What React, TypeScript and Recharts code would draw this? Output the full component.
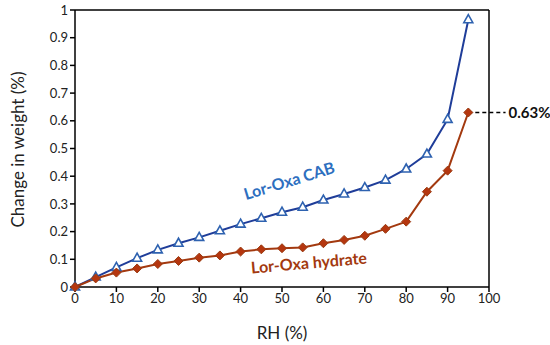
import { LineChart, Line, XAxis, YAxis, ReferenceLine, ReferenceDot } from "recharts"

const rh = [0, 5, 10, 15, 20, 25, 30, 35, 40, 45, 50, 55, 60, 65, 70, 75, 80, 85, 90, 95]
const cab = [0, 0.036, 0.071, 0.104, 0.134, 0.158, 0.179, 0.203, 0.227, 0.248, 0.27, 0.288, 0.314, 0.336, 0.359, 0.386, 0.426, 0.48, 0.605, 0.965]
const hydrate = [0, 0.031, 0.052, 0.067, 0.083, 0.094, 0.106, 0.114, 0.128, 0.136, 0.14, 0.143, 0.158, 0.17, 0.185, 0.21, 0.236, 0.344, 0.42, 0.63]
const xTicks = [0, 10, 20, 30, 40, 50, 60, 70, 80, 90, 100]
const yTicks = [0, 0.1, 0.2, 0.3, 0.4, 0.5, 0.6, 0.7, 0.8, 0.9, 1]

const data = rh.map((x, i) => ({ rh: x, cab: cab[i], hydrate: hydrate[i] }))

const font = "Lato, 'Open Sans', sans-serif"

const Triangle = ({ cx, cy }: { cx?: number, cy?: number }) => {
    if (cx == null || cy == null) return null
    return (
        <polygon
            points={`${cx},${cy - 5} ${cx + 4.5},${cy + 3} ${cx - 4.5},${cy + 3}`}
            fill="#ffffff"
            stroke="#2e62b0"
            strokeWidth={1.6}
        />
    )
}

const Diamond = ({ cx, cy }: { cx?: number, cy?: number }) => {
    if (cx == null || cy == null) return null
    return (
        <polygon
            points={`${cx},${cy - 4.5} ${cx + 4.5},${cy} ${cx},${cy + 4.5} ${cx - 4.5},${cy}`}
            fill="#b5360f"
            stroke="#9a3a10"
            strokeWidth={1}
        />
    )
}

const SeriesLabel = (text: string, color: string, angle: number) =>
    ({ cx, cy }: { cx?: number, cy?: number }) => (
        <text
            x={cx}
            y={cy}
            transform={`rotate(${angle} ${cx} ${cy})`}
            textAnchor="middle"
            dominantBaseline="central"
            fill={color}
            fontSize={16}
            fontWeight="bold"
            fontFamily={font}
        >
            {text}
        </text>
    )

export default function App() {
    return (
        <div style={{ position: "absolute", left: 0, top: 0, background: "#fff" }}>
            <LineChart
                width={550}
                height={345}
                data={data}
                margin={{ top: 10, right: 61, left: 0, bottom: 0 }}
            >
                <XAxis
                    dataKey="rh"
                    type="number"
                    domain={[0, 100]}
                    ticks={xTicks}
                    height={58}
                    stroke="#000"
                    strokeWidth={1.5}
                    tickSize={5}
                    tick={{ fill: "#222", fontSize: 13, fontFamily: font }}
                    label={{ value: "RH (%)", position: "insideBottom", offset: 6, fill: "#222", fontSize: 17, fontFamily: font }}
                />
                <YAxis
                    type="number"
                    domain={[0, 1]}
                    ticks={yTicks}
                    width={75}
                    stroke="#000"
                    strokeWidth={1.5}
                    tickSize={5}
                    tick={{ fill: "#222", fontSize: 13, fontFamily: font }}
                    label={{ value: "Change in weight (%)", angle: -90, position: "insideLeft", offset: 18, dy: 1, fill: "#222", fontSize: 17, fontFamily: font, style: { textAnchor: "middle" } }}
                />
                <ReferenceLine y={1} stroke="#000" strokeWidth={1.5} />
                <ReferenceLine x={100} stroke="#000" strokeWidth={1.5} />
                <ReferenceLine
                    segment={[{ x: 95, y: 0.63 }, { x: 104, y: 0.63 }]}
                    stroke="#000"
                    strokeWidth={1.5}
                    strokeDasharray="4 3"
                    ifOverflow="visible"
                    label={{ value: "0.63%", position: "right", offset: 3, fill: "#111", fontSize: 15, fontWeight: "bold", fontFamily: font }}
                />
                <Line
                    dataKey="cab"
                    stroke="#1f3d99"
                    strokeWidth={2}
                    dot={<Triangle />}
                    isAnimationActive={false}
                />
                <Line
                    dataKey="hydrate"
                    stroke="#a3390f"
                    strokeWidth={2}
                    dot={<Diamond />}
                    isAnimationActive={false}
                />
                <ReferenceDot x={51.7} y={0.386} r={0} shape={SeriesLabel("Lor-Oxa CAB", "#2e6fbf", -17)} />
                <ReferenceDot x={56.5} y={0.09} r={0} shape={SeriesLabel("Lor-Oxa hydrate", "#a3390f", -5)} />
            </LineChart>
        </div>
    )
}
